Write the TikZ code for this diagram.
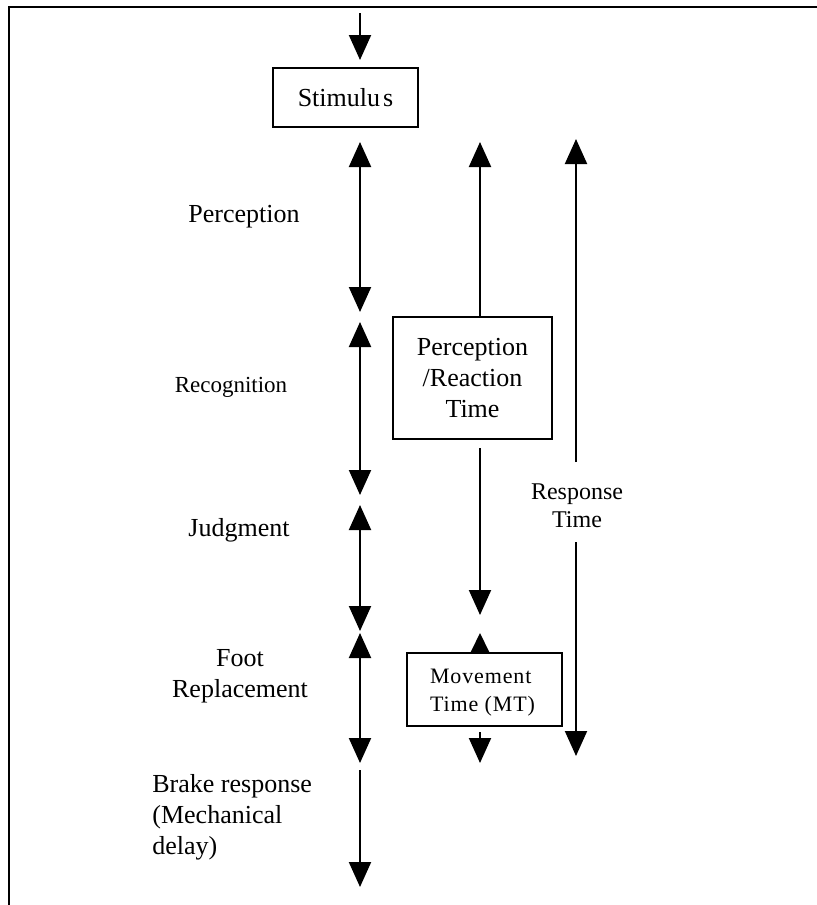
\documentclass[tikz,border=0pt]{standalone}
\usepackage{fontspec}
\setmainfont{Liberation Serif}
\usetikzlibrary{arrows.meta}
\tikzset{>={Triangle[length=12.5pt,width=11pt]}}
\tikzset{
	timebox/.style={draw, line width=1pt, inner sep=0pt, align=center},
	phase/.style={align=center, inner sep=0pt, font=\fontsize{13}{15.5}\selectfont},
	flow/.style={line width=1pt}
}

\begin{document}
\begin{tikzpicture}[x=0.5pt, y=-0.5pt]
	\useasboundingbox (0,0) rectangle (817,905);
	\draw[line width=1pt] (9,915) |- (827,7); % frame
	
	% boxes
	\node[timebox, minimum width=72.5pt, minimum height=29.5pt, font=\fontsize{13}{15.5}\selectfont] (stim) at (345.5,97.5) {Stimulu\hspace{1.5pt}s};
	\node[timebox, minimum width=79.5pt, minimum height=61pt, font=\fontsize{13}{15.5}\selectfont] (prt) at (472.5,378) {Perception\\/Reaction\\Time};
	\node[timebox, minimum width=77.5pt, minimum height=36.5pt] (mt) at (484.5,689.5) {};
	\node[align=left, inner sep=0pt, font=\fontsize{11}{14}\selectfont\addfontfeatures{LetterSpace=4}] (mttext) at (482.5,693) {Movement\\Time (MT)};
	
	% stage labels
	\node[phase] (perc) at (244,217) {Perception};
	\node[phase, font=\fontsize{11.5}{14}\selectfont] (recog) at (231,387) {Recognition};
	\node[phase] (judg) at (239,530) {Judgment};
	\node[phase] (foot) at (240,676) {Foot\\Replacement};
	\node[phase, align=left, anchor=west] (brake) at (152,817) {Brake response\\(Mechanical\\delay)};
	\node[phase, font=\fontsize{12}{14}\selectfont] (resp) at (577,506) {Response\\Time};
	
	% stage arrows
	\coordinate (s0) at (360,13);
	\coordinate (s1) at (360,60);
	\draw[flow, ->] (s0) -- (s1);
	\draw[flow, <->] (360,142) -- (360,312);
	\draw[flow, <->] (360,322) -- (360,495);
	\draw[flow, <->] (360,505) -- (360,631);
	\draw[flow, <->] (360,633) -- (360,763);
	\draw[flow, ->] (360,770) -- (360,887);
	
	% perception/reaction and movement time
	\coordinate (prtop) at (480,142);
	\coordinate (prend) at (480,615);
	\coordinate (mttop) at (480,633);
	\coordinate (mtend) at (480,763);
	\draw[flow, ->] (prt.north -| prtop) -- (prtop);
	\draw[flow, ->] (480,448) -- (prend);
	\draw[flow, -{Triangle[length=10pt,width=9.5pt]}] (mt.north -| mttop) -- (mttop);
	\draw[flow, ->] (480,732) -- (mtend);
	
	% response time
	\coordinate (rtop) at (576,139);
	\coordinate (rend) at (576,756);
	\draw[flow, ->] (576,462) -- (rtop);
	\draw[flow, ->] (576,542) -- (rend);
\end{tikzpicture}
\end{document}
